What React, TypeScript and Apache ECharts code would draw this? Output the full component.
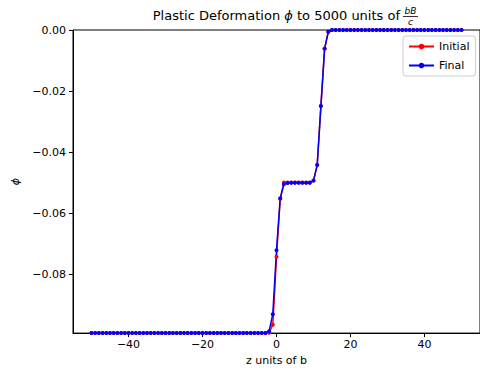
import React, { useEffect, useRef } from "react";
import * as echarts from "echarts";

const zValues = [
  -50, -49, -48, -47, -46, -45, -44, -43, -42, -41,
  -40, -39, -38, -37, -36, -35, -34, -33, -32, -31,
  -30, -29, -28, -27, -26, -25, -24, -23, -22, -21,
  -20, -19, -18, -17, -16, -15, -14, -13, -12, -11,
  -10, -9, -8, -7, -6, -5, -4, -3, -2, -1,
  0, 1, 2, 3, 4, 5, 6, 7, 8, 9,
  10, 11, 12, 13, 14, 15, 16, 17, 18, 19,
  20, 21, 22, 23, 24, 25, 26, 27, 28, 29,
  30, 31, 32, 33, 34, 35, 36, 37, 38, 39,
  40, 41, 42, 43, 44, 45, 46, 47, 48, 49,
  50,
];

const initialPhi = [
  -0.0992, -0.0992, -0.0992, -0.0992, -0.0992, -0.0992, -0.0992, -0.0992, -0.0992, -0.0992,
  -0.0992, -0.0992, -0.0992, -0.0992, -0.0992, -0.0992, -0.0992, -0.0992, -0.0992, -0.0992,
  -0.0992, -0.0992, -0.0992, -0.0992, -0.0992, -0.0992, -0.0992, -0.0992, -0.0992, -0.0992,
  -0.0992, -0.0992, -0.0992, -0.0992, -0.0992, -0.0992, -0.0992, -0.0992, -0.0992, -0.0992,
  -0.0992, -0.0992, -0.0992, -0.0992, -0.0992, -0.0992, -0.0992, -0.0992, -0.0991, -0.0965,
  -0.0742, -0.0553, -0.0499, -0.0499, -0.0499, -0.0499, -0.0499, -0.0499, -0.0499, -0.0499,
  -0.0493, -0.0442, -0.0249, -0.0061, -0.0006, 0, 0, 0, 0, 0,
  0, 0, 0, 0, 0, 0, 0, 0, 0, 0,
  0, 0, 0, 0, 0, 0, 0, 0, 0, 0,
  0, 0, 0, 0, 0, 0, 0, 0, 0, 0,
  0,
];

const finalPhi = [
  -0.0992, -0.0992, -0.0992, -0.0992, -0.0992, -0.0992, -0.0992, -0.0992, -0.0992, -0.0992,
  -0.0992, -0.0992, -0.0992, -0.0992, -0.0992, -0.0992, -0.0992, -0.0992, -0.0992, -0.0992,
  -0.0992, -0.0992, -0.0992, -0.0992, -0.0992, -0.0992, -0.0992, -0.0992, -0.0992, -0.0992,
  -0.0992, -0.0992, -0.0992, -0.0992, -0.0992, -0.0992, -0.0992, -0.0992, -0.0992, -0.0992,
  -0.0992, -0.0992, -0.0992, -0.0992, -0.0992, -0.0992, -0.0992, -0.0992, -0.0986, -0.093,
  -0.0721, -0.0551, -0.0505, -0.0501, -0.05, -0.05, -0.05, -0.05, -0.05, -0.05,
  -0.0493, -0.0442, -0.0249, -0.0061, -0.0006, 0, 0, 0, 0, 0,
  0, 0, 0, 0, 0, 0, 0, 0, 0, 0,
  0, 0, 0, 0, 0, 0, 0, 0, 0, 0,
  0, 0, 0, 0, 0, 0, 0, 0, 0, 0,
  0,
];

const xTicks = [-40, -20, 0, 20, 40];
const yTicks = [0, -0.02, -0.04, -0.06, -0.08];
const seriesNames = ["Initial", "Final"];

const FONT = "DejaVu Sans";

function fmtY(v: number) {
  const s = Math.abs(v).toFixed(2);
  return v < -1e-9 ? "\u2212" + s : s;
}
function fmtX(v: number) {
  return v < 0 ? "\u2212" + Math.abs(v) : String(v);
}

export default function App() {
  const ref = useRef<HTMLDivElement>(null);
  useEffect(() => {
    if (!ref.current) return;
    const chart = echarts.init(ref.current, undefined, { renderer: "svg" });
    const pair = (ys: number[]) => zValues.map((z, i) => [z, ys[i]]);
    chart.setOption({
      animation: false,
      backgroundColor: "#ffffff",
      textStyle: { fontFamily: FONT },
      grid: {
        left: 73,
        top: 30,
        right: -4,
        bottom: 36,
        show: true,
        borderColor: "#000",
        borderWidth: 1,
        containLabel: false,
      },
      legend: {
        left: 403,
        top: 36,
        orient: "vertical",
        data: seriesNames,
        itemWidth: 25,
        itemHeight: 7,
        itemGap: 8,
        padding: [5, 6, 5, 5],
        backgroundColor: "rgba(255,255,255,0.8)",
        borderColor: "#cccccc",
        borderWidth: 1,
        borderRadius: 3,
        textStyle: { fontFamily: FONT, fontSize: 11, color: "#000" },
      },
      xAxis: {
        type: "value",
        min: -55,
        max: 55,
        name: "z units of b",
        nameLocation: "middle",
        nameGap: 19,
        nameTextStyle: { fontFamily: FONT, fontSize: 11, color: "#000" },
        axisLine: { show: true, onZero: false, lineStyle: { color: "#000", width: 1 } },
        axisTick: {
          show: true,
          length: 4,
          inside: false,
          customValues: xTicks,
          lineStyle: { color: "#000" },
        },
        axisLabel: {
          customValues: xTicks,
          formatter: (v: number) => fmtX(v),
          fontFamily: FONT,
          fontSize: 11,
          color: "#000",
          margin: 6,
        },
        splitLine: { show: false },
      },
      yAxis: {
        type: "value",
        min: -0.0992,
        max: 0,
        name: "\u03d5",
        nameLocation: "middle",
        nameRotate: 90,
        nameGap: 51,
        nameTextStyle: { fontFamily: FONT, fontSize: 11, color: "#000", fontStyle: "italic" },
        axisLine: { show: true, onZero: false, lineStyle: { color: "#000", width: 1 } },
        axisTick: {
          show: true,
          length: 4,
          inside: false,
          customValues: yTicks,
          lineStyle: { color: "#000" },
        },
        axisLabel: {
          customValues: yTicks,
          formatter: (v: number) => fmtY(v),
          fontFamily: FONT,
          fontSize: 11,
          color: "#000",
          margin: 7,
        },
        splitLine: { show: false },
      },
      graphic: [
        {
          type: "text",
          x: 400,
          y: 15,
          style: {
            text: "Plastic Deformation {i|\u03d5} to 5000 units of",
            align: "right",
            verticalAlign: "middle",
            fontFamily: FONT,
            fontSize: 13,
            fill: "#000",
            rich: {
              i: { fontFamily: FONT, fontSize: 13, fontStyle: "italic", fill: "#000" },
            },
          },
        },
        {
          type: "text",
          x: 410.5,
          y: 11,
          style: {
            text: "bB",
            align: "center",
            verticalAlign: "middle",
            fontFamily: FONT,
            fontSize: 9,
            fontStyle: "italic",
            fill: "#000",
          },
        },
        {
          type: "line",
          shape: { x1: 403, y1: 16.5, x2: 418, y2: 16.5 },
          style: { stroke: "#000", lineWidth: 0.8 },
        },
        {
          type: "text",
          x: 410.5,
          y: 21.5,
          style: {
            text: "c",
            align: "center",
            verticalAlign: "middle",
            fontFamily: FONT,
            fontSize: 9,
            fontStyle: "italic",
            fill: "#000",
          },
        },
      ],
      series: [
        {
          name: seriesNames[0],
          type: "line",
          data: pair(initialPhi),
          symbol: "circle",
          symbolSize: 4,
          showAllSymbol: true,
          lineStyle: { color: "#ff0000", width: 1.5 },
          itemStyle: { color: "#ff0000" },
          clip: true,
        },
        {
          name: seriesNames[1],
          type: "line",
          data: pair(finalPhi),
          symbol: "circle",
          symbolSize: 4,
          showAllSymbol: true,
          lineStyle: { color: "#0000ff", width: 1.5 },
          itemStyle: { color: "#0000ff" },
          clip: true,
        },
      ],
    });
    return () => chart.dispose();
  }, []);
  return (
    <div
      ref={ref}
      style={{ position: "absolute", left: 0, top: 0, width: 480, height: 371 }}
    />
  );
}
